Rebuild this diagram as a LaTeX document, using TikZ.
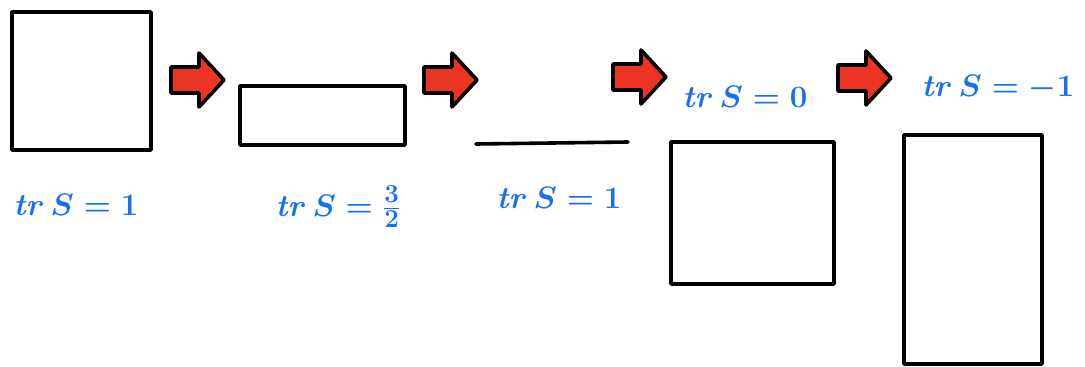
\documentclass[tikz,border=0pt]{standalone}
\usepackage{amsmath}
\definecolor{inkblue}{RGB}{22,112,240}
\definecolor{inkred}{RGB}{236,52,36}
\tikzset{
  box/.style={draw=black, line width=3.6pt, line join=round, line cap=round},
  stepper/.style={draw=black, fill=inkred, line width=3.6pt, line join=round},
  trace/.style={text=inkblue, font=\fontsize{30}{30}\selectfont\boldmath,
    inner sep=0pt, scale=1.25, transform shape},
}
\begin{document}
\begin{tikzpicture}[x=1pt, y=-1pt]
  \useasboundingbox (0,0) rectangle (1085,367);

  % shapes, left to right
  \draw[box] (12,12) rectangle (151,150);
  \draw[box] (240,86) rectangle (405,145);
  \coordinate (l1) at (476,144);
  \coordinate (l2) at (628,142);
  \draw[box] (l1) -- (l2);
  \draw[box] (671,142) rectangle (834,284);
  \draw[box] (904,135) rectangle (1042,364);

  % arrows between the shapes
  \coordinate (a1) at (197,80);
  \coordinate (a2) at (450,80);
  \coordinate (a3) at (639,77);
  \coordinate (a4) at (864,78);
  \foreach \c in {a1,a2,a3,a4}
    \draw[stepper, shift={(\c)}] (-26,-13) -- (2,-13) -- (2,-27) -- (27,0)
      -- (2,27) -- (2,13) -- (-26,13) -- cycle;

  % traces
  \node[trace] (t1) at (76,205) {$\mathit{tr}\,S=1$};
  \node[trace] (t2) at (338,207) {$\mathit{tr}\,S=\tfrac{3}{2}$};
  \node[trace] (t3) at (559,198) {$\mathit{tr}\,S=1$};
  \node[trace] (t4) at (745,97) {$\mathit{tr}\,S=0$};
  \node[trace] (t5) at (998,88) {$\mathit{tr}\,S=-1$};
\end{tikzpicture}
\end{document}
